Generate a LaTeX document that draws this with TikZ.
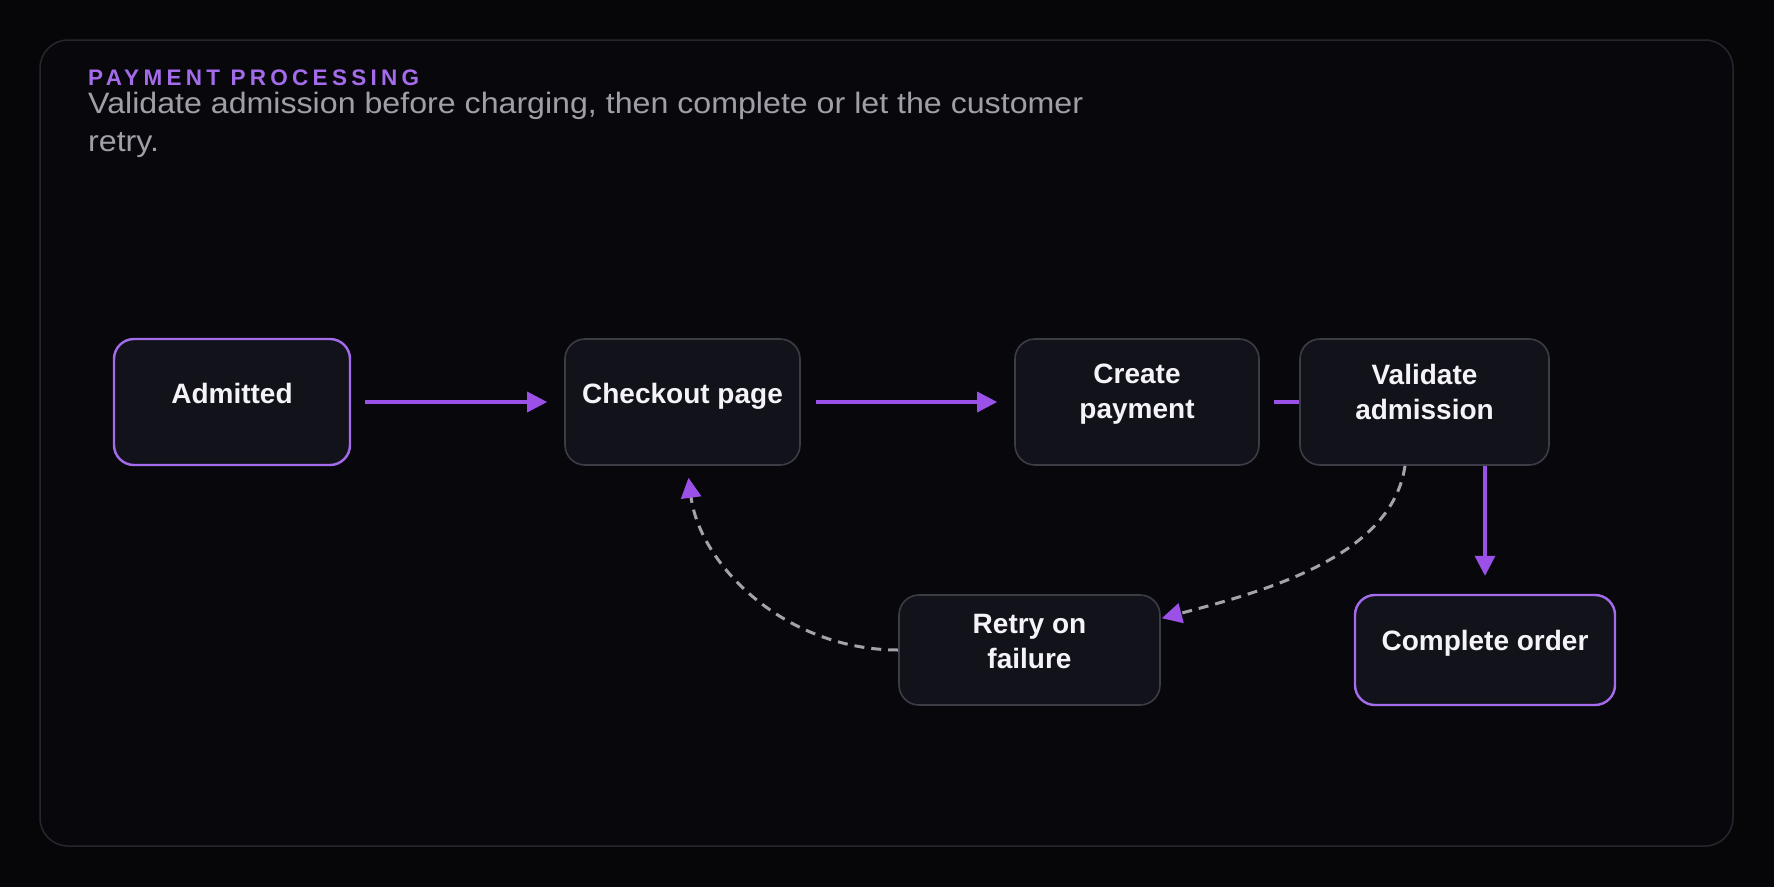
\documentclass[tikz,border=0pt]{standalone}
\usepackage{fontspec}
\setmainfont{Liberation Sans}
\newfontfamily\titlefont[LetterSpace=19]{Liberation Sans}
\newfontfamily\subfont[FakeStretch=1.09]{Liberation Sans}
\usetikzlibrary{arrows.meta}
\definecolor{bgc}{HTML}{060609}
\definecolor{framefill}{HTML}{08080C}
\definecolor{framedraw}{HTML}{26262E}
\definecolor{boxfill}{HTML}{12121A}
\definecolor{boxdraw}{HTML}{3C3C46}
\definecolor{accent}{HTML}{A46BEB}
\definecolor{arrowc}{HTML}{9B51E8}
\definecolor{dashc}{HTML}{A3A3AB}
\definecolor{subc}{HTML}{A09FA8}
\definecolor{txtc}{HTML}{F4F4F8}
\begin{document}
\begin{tikzpicture}[x=1pt,y=-1pt,
  box/.style={draw=boxdraw, line width=1.6pt, fill=boxfill, rounded corners=20pt, inner sep=0pt},
  hot/.style={box, draw=accent, line width=2.4pt},
  lbl/.style={text=txtc, font=\fontsize{28}{35}\selectfont\bfseries, align=center, inner sep=0pt},
  arr/.style={draw=arrowc, line width=3.2pt, -{Triangle[length=20pt,width=20pt]}},
  darr/.style={draw=dashc, line width=3pt, dash pattern=on 10pt off 7pt, -{Triangle[length=20pt,width=20pt,color=arrowc,fill=arrowc]}},
]
\useasboundingbox (0,0) rectangle (1774,887);
\fill[bgc] (0,0) rectangle (1774,887);
\draw[draw=framedraw, fill=framefill, line width=1.5pt, rounded corners=28pt] (40,40) rectangle (1733,846);

\node[anchor=base west, text=accent, font=\titlefont\fontsize{22.5}{26}\selectfont\bfseries, inner sep=0pt] (title) at (88,85) {PAYMENT PROCESSING};
\node[anchor=base west, text=subc, font=\subfont\fontsize{29.5}{38}\selectfont, inner sep=0pt] (sub1) at (88,113) {Validate admission before charging, then complete or let the customer};
\node[anchor=base west, text=subc, font=\subfont\fontsize{29.5}{38}\selectfont, inner sep=0pt] (sub2) at (88,151.5) {retry.};

\node[hot, minimum width=236pt, minimum height=126pt, label={[lbl,yshift=9pt]center:Admitted}] (adm) at (232,402) {};
\node[box, minimum width=235pt, minimum height=126pt, label={[lbl,yshift=6pt]center:Checkout page}] (chk) at (682.5,402) {};
\node[box, minimum width=244pt, minimum height=126pt, label={[lbl,yshift=8pt]center:{Create\\payment}}] (cre) at (1137,402) {};
\node[box, minimum width=249pt, minimum height=126pt, label={[lbl,yshift=10pt]center:{Validate\\admission}}] (val) at (1424.5,402) {};
\node[box, minimum width=261pt, minimum height=110pt, label={[lbl,yshift=9pt]center:{Retry on\\failure}}] (ret) at (1029.5,650) {};
\node[hot, minimum width=260pt, minimum height=110pt, label={[lbl,yshift=7pt]center:Complete order}] (cmp) at (1485,650) {};

\draw[arr, shorten <=14pt, shorten >=17pt] (adm) -- (chk);
\draw[arr, shorten <=15pt, shorten >=17pt] (chk) -- (cre);
\draw[draw=arrowc, line width=3.2pt, shorten <=14pt] (cre) -- (val);
\draw[arr, shorten >=18pt] (val.south -| cmp.north) -- (cmp.north);
\draw[darr] ([xshift=-19.5pt]val.south) .. controls (1392,555) and (1270,590) .. ([xshift=1pt,yshift=-24pt]ret.north east);
\draw[darr] (ret.west) .. controls (785,650) and (700,565) .. ([xshift=6pt,yshift=-12pt]chk.south);
\end{tikzpicture}
\end{document}
